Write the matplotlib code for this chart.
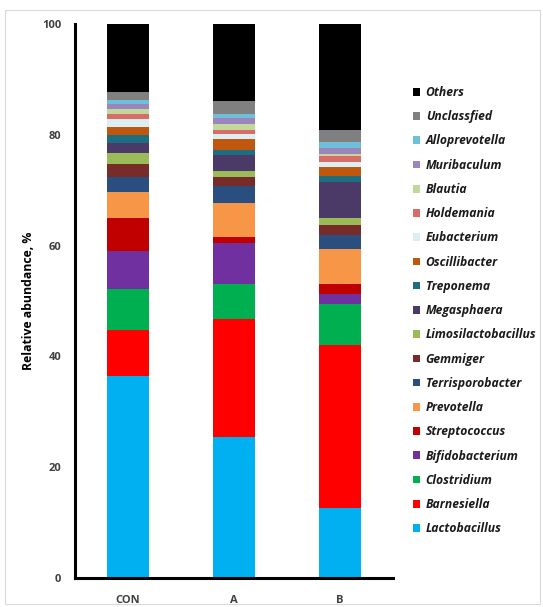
import matplotlib
matplotlib.use("Agg")
import matplotlib.pyplot as plt
from matplotlib.patches import Rectangle

groups = ["CON", "A", "B"]
taxa = ["Lactobacillus", "Barnesiella", "Clostridium", "Bifidobacterium", "Streptococcus",
        "Prevotella", "Terrisporobacter", "Gemmiger", "Limosilactobacillus", "Megasphaera",
        "Treponema", "Oscillibacter", "Eubacterium", "Holdemania", "Blautia",
        "Muribaculum", "Alloprevotella", "Unclassfied", "Others"]

con = [36.5, 8.2, 7.4, 7.0, 5.9, 4.6, 2.7, 2.5, 2.0, 1.8, 1.3, 1.5, 1.4, 0.9, 0.9, 0.9, 0.8, 1.5, 12.2]
a   = [25.5, 21.2, 6.3, 7.5, 1.1, 6.0, 3.1, 1.6, 1.1, 3.0, 0.8, 2.1, 0.8, 0.7, 1.1, 1.2, 0.6, 2.4, 13.9]
b   = [12.7, 29.3, 7.4, 1.9, 1.7, 6.3, 2.7, 1.8, 1.1, 6.6, 1.0, 1.7, 0.9, 1.0, 0.5, 1.1, 1.0, 2.1, 19.2]

colors = ["#00B0F0", "#FF0000", "#00B050", "#7030A0", "#C00000",
          "#F79646", "#2A4E7F", "#772C2A", "#9BBB59", "#4B3A68",
          "#1C6E80", "#C0570F", "#DAEEF3", "#DA6C68", "#C4D79B",
          "#9A86BC", "#6FBFD8", "#808080", "#000000"]

yticks = [0, 20, 40, 60, 80, 100]

plt.rcParams['font.family'] = ['Open Sans', 'DejaVu Sans']

fig = plt.figure(figsize=(5.43, 6.07), dpi=100)
fig.patches.append(Rectangle((5/543, 3/607), 535/543, 594/607, transform=fig.transFigure,
                             fill=False, edgecolor="#D9D9D9", linewidth=0.8))
ax = fig.add_axes([75/543, 29/607, 318/543, 554/607])

data = [con, a, b]
x = list(range(len(groups)))
bottoms = [0.0] * len(groups)
handles = []
for i, t in enumerate(taxa):
    vals = [d[i] for d in data]
    h = ax.bar(x, vals, width=0.39, bottom=bottoms, color=colors[i], label=t, linewidth=0)
    handles.append(h)
    bottoms = [bo + v for bo, v in zip(bottoms, vals)]

ax.set_xlim(-0.5, 2.5)
ax.set_ylim(0, 100)
ax.set_yticks(yticks)
ax.set_yticklabels([str(v) for v in yticks], fontsize=8, fontweight='bold', color='#404040')
ax.set_xticks(x)
ax.set_xticklabels(groups, fontsize=8, fontweight='bold', color='#404040')
for s in ["top", "right"]:
    ax.spines[s].set_visible(False)
for s in ["left", "bottom"]:
    ax.spines[s].set_linewidth(2.2)
    ax.spines[s].set_color('black')
ax.tick_params(axis='both', length=0, pad=10)
ax.tick_params(axis='x', pad=12)
ax.set_ylabel("Relative abundance, %", fontsize=8.8, fontweight='bold', labelpad=5)

leg = fig.legend(handles[::-1], taxa[::-1], loc='upper left', bbox_to_anchor=(413/543, 1 - 86/607),
                 frameon=False, prop={'style': 'italic', 'weight': 'bold', 'size': 8.7},
                 handlelength=0.6, handleheight=0.6, handletextpad=0.45, labelspacing=0.93,
                 borderaxespad=0, borderpad=0)
for t in leg.get_texts():
    t.set_color('#1a1a1a')

fig.savefig("out.png", dpi=100)
